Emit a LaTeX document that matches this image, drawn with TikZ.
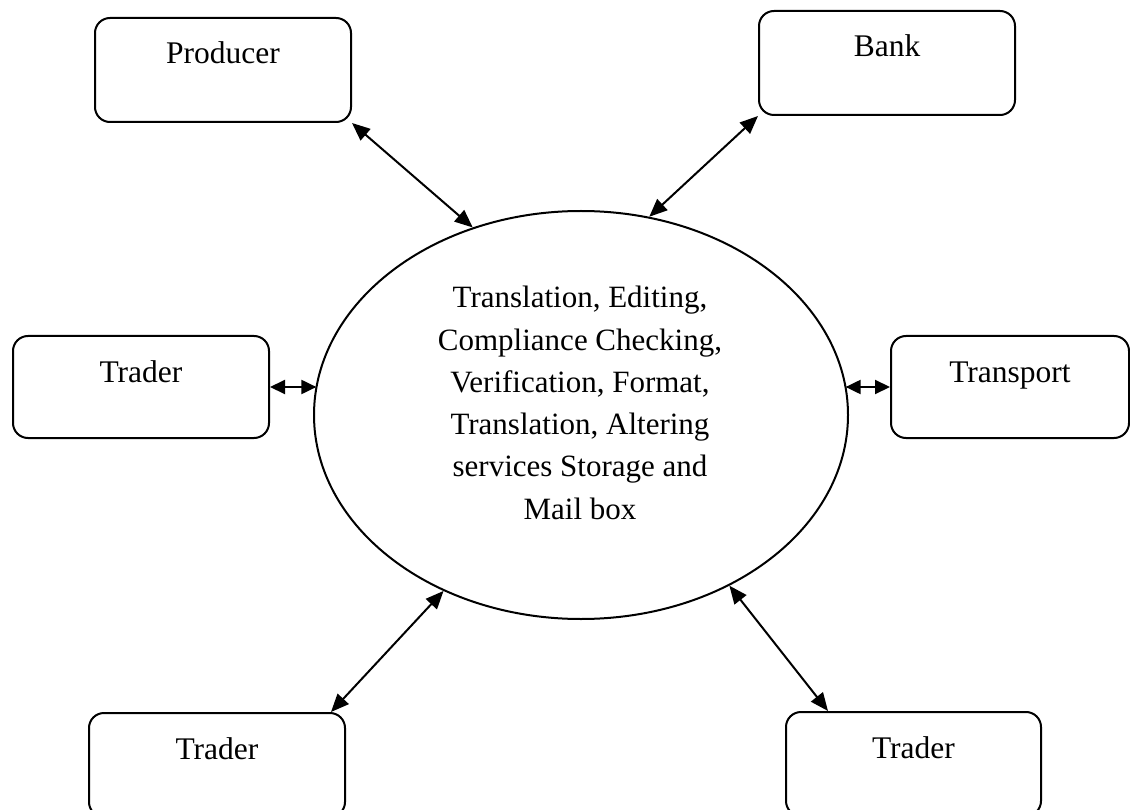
\documentclass[tikz,border=0pt]{standalone}
\usepackage{fontspec}
\setmainfont{Liberation Serif}
\usetikzlibrary{arrows.meta,shapes.geometric}
\begin{document}
\begin{tikzpicture}[x=1pt,y=-1pt,
  box/.style={draw, line width=2pt, rounded corners=15pt, inner xsep=0pt, inner ysep=0pt,
    minimum width=256pt, text height=46pt, text depth=58pt, anchor=north west,
    font=\fontsize{31.5}{38}\selectfont},
  core/.style={draw, ellipse, line width=2pt, minimum width=534pt, minimum height=408pt, inner sep=0pt},
  coretext/.style={align=center, inner sep=0pt, anchor=north, font=\fontsize{31}{42.3}\selectfont},
  link/.style={line width=2pt, {Triangle[length=18pt,width=15pt]}-{Triangle[length=18pt,width=15pt]}},
  shortlink/.style={line width=2pt, {Triangle[length=15pt,width=14pt]}-{Triangle[length=15pt,width=14pt]}},
]
\useasboundingbox (0,0) rectangle (1130,810);
\clip (0,0) rectangle (1130,810);

\node[box] (producer) at (94,17) {Producer};
\node[box] (bank) at (758,10) {Bank};
\node[box, text depth=56pt] (trader1) at (12,335) {Trader};
\node[box, minimum width=238pt, text depth=56pt] (transport) at (890,335) {Transport};
\node[box] (trader3) at (88,712) {Trader};
\node[box, minimum width=255pt] (trader4) at (785,711) {Trader};

\node[core] (core) at (581,415) {};
\node[coretext] (coretext) at (580,286) {Translation, Editing,\\Compliance Checking,\\Verification, Format,\\Translation, Altering\\services Storage and\\Mail box};

\draw[link] (producer.south east) -- (core.120);
\draw[link] (bank.south west) -- (core.71.6);
\draw[shortlink] (trader1.east) -- (trader1.east -| core.173);
\draw[shortlink] (transport.west -| core.7) -- (transport.west);
\draw[link] (core.232.2) -- ([xshift=-15pt]trader3.north east);
\draw[link] (core.311.3) -- ([xshift=43pt]trader4.north west);
\end{tikzpicture}
\end{document}
